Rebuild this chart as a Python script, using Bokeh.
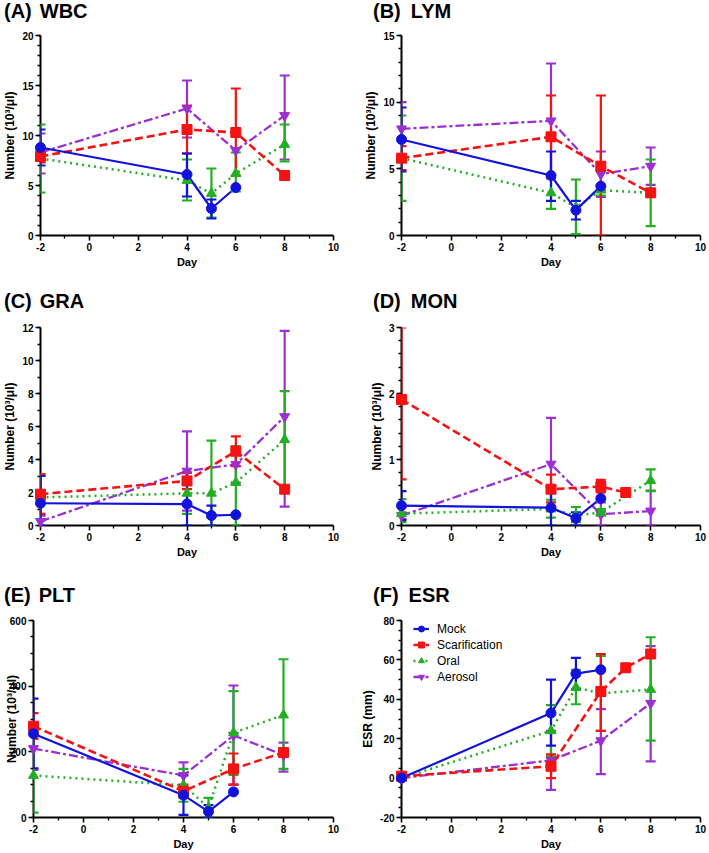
from bokeh.plotting import figure
from bokeh.models import (Range1d, FixedTicker, ColumnDataSource, Whisker, TeeHead,
                          Legend, LegendItem, Div)
from bokeh.layouts import column, row
from bokeh.embed import file_html
from bokeh.resources import INLINE

# ---------------- data ----------------
GROUPS = ["Mock", "Scarification", "Oral", "Aerosol"]
DAYS_MOCK = [-2, 4, 5, 6]
DAYS_SCAR = [-2, 4, 6, 7, 8]
DAYS_ORAL = [-2, 4, 5, 6, 8]
DAYS_AERO = [-2, 4, 6, 8]
X_TICKS = [-2, 0, 2, 4, 6, 8, 10]
X_MINOR = [-1, 1, 3, 5, 7, 9]

# (A) WBC
WBC_MOCK = [8.8, 6.1, 2.7, 4.8]
WBC_MOCK_LO = [7.0, 3.9, 1.7, None]
WBC_MOCK_HI = [10.6, 8.2, 3.6, None]
WBC_SCAR = [7.9, 10.6, 10.3, None, 6.0]
WBC_SCAR_LO = [7.3, 8.2, 6.0, None, None]
WBC_SCAR_HI = [8.5, 13.0, 14.7, None, None]
WBC_ORAL = [7.7, 5.5, 4.2, 6.2, 9.1]
WBC_ORAL_LO = [4.3, 3.5, 1.8, 4.4, 7.4]
WBC_ORAL_HI = [11.1, 7.6, 6.7, 8.3, 11.1]
WBC_AERO = [8.3, 12.7, 8.5, 12.0]
WBC_AERO_LO = [6.2, 9.8, None, 7.6]
WBC_AERO_HI = [10.2, 15.5, None, 16.0]

# (B) LYM
LYM_MOCK = [7.2, 4.5, 1.9, 3.7]
LYM_MOCK_LO = [4.8, 2.6, 1.2, None]
LYM_MOCK_HI = [9.6, 6.3, 2.6, None]
LYM_SCAR = [5.8, 7.4, 5.2, None, 3.2]
LYM_SCAR_LO = [4.9, 4.3, 0.0, None, None]
LYM_SCAR_HI = [6.7, 10.5, 10.5, None, None]
LYM_ORAL = [5.8, 3.2, 2.1, 3.4, 3.2]
LYM_ORAL_LO = [2.6, 2.0, 0.1, 3.0, 0.7]
LYM_ORAL_HI = [9.0, 4.4, 4.2, 3.8, 5.7]
LYM_AERO = [8.0, 8.6, 4.6, 5.2]
LYM_AERO_LO = [6.0, 4.3, 2.9, 3.8]
LYM_AERO_HI = [10.0, 12.9, 6.3, 6.6]

# (C) GRA
GRA_MOCK = [1.35, 1.3, 0.6, 0.65]
GRA_MOCK_LO = [0.0, 0.0, 0.0, None]
GRA_MOCK_HI = [3.0, 2.6, 1.2, None]
GRA_SCAR = [1.9, 2.7, 4.5, None, 2.2]
GRA_SCAR_LO = [0.7, 2.2, 3.6, None, None]
GRA_SCAR_HI = [3.1, 3.2, 5.4, None, None]
GRA_ORAL = [1.7, 1.95, 1.95, 2.6, 5.2]
GRA_ORAL_LO = [0.3, 0.7, 0.0, 0.0, 2.3]
GRA_ORAL_HI = [3.1, 3.2, 5.15, 4.8, 8.15]
GRA_AERO = [0.25, 3.3, 3.7, 6.6]
GRA_AERO_LO = [0.0, 0.9, 2.6, 1.15]
GRA_AERO_HI = [0.6, 5.7, 4.8, 11.8]

# (D) MON
MON_MOCK = [0.3, 0.27, 0.11, 0.41]
MON_MOCK_LO = [0.08, 0.0, 0.0, None]
MON_MOCK_HI = [0.52, 0.55, 0.2, None]
MON_SCAR = [1.91, 0.55, 0.59, 0.5, None]
MON_SCAR_LO = [0.7, 0.35, 0.5, None, None]
MON_SCAR_HI = [3.0, 0.77, 0.69, None, None]
MON_ORAL = [0.18, 0.25, 0.15, 0.2, 0.68]
MON_ORAL_LO = [0.05, 0.12, 0.05, 0.15, 0.52]
MON_ORAL_HI = [0.4, 0.39, 0.28, 0.25, 0.85]
MON_AERO = [0.15, 0.93, 0.17, 0.22]
MON_AERO_LO = [0.1, 0.22, 0.0, 0.0]
MON_AERO_HI = [0.2, 1.63, 0.35, 0.53]

# (E) PLT
PLT_MOCK = [255, 68, 18, 78]
PLT_MOCK_LO = [150, 8, 0, None]
PLT_MOCK_HI = [362, 128, 38, None]
PLT_SCAR = [278, 80, 148, None, 198]
PLT_SCAR_LO = [240, 60, 100, None, None]
PLT_SCAR_HI = [318, 100, 195, None, None]
PLT_ORAL = [128, 98, 30, 258, 312]
PLT_ORAL_LO = [15, 48, 0, 130, 148]
PLT_ORAL_HI = [240, 148, 60, 385, 482]
PLT_AERO = [210, 128, 250, 190]
PLT_AERO_LO = [145, 90, 100, 140]
PLT_AERO_HI = [275, 168, 402, 228]

# (F) ESR
ESR_MOCK = [0, 33, 53, 55]
ESR_MOCK_LO = [None, 16.5, 45, None]
ESR_MOCK_HI = [None, 50, 61, None]
ESR_SCAR = [1, 6, 44, 56, 63]
ESR_SCAR_LO = [None, 0, 24, None, None]
ESR_SCAR_HI = [None, 12, 63, None, None]
ESR_ORAL = [0, 24, 46, 43, 45]
ESR_ORAL_LO = [None, 11, 37.5, 24, 19]
ESR_ORAL_HI = [None, 37, 55, 62, 71.5]
ESR_AERO = [0, 9, 19, 38]
ESR_AERO_LO = [None, -6, 2, 8.5]
ESR_AERO_HI = [None, 24, 35, 67]

# ---------------- styling ----------------
FONT = "Liberation Sans"
COLORS = ["#1212dc", "#f51212", "#22b022", "#9b30d2"]
DASHES = ["solid", "8 4", "2 4", "9 3 3 3"]
WIDTHS = [2.2, 2.6, 2.5, 2.3]
MARKERS = ["circle", "square", "triangle", "inverted_triangle"]
MSIZES = [10, 10, 10, 10]

# title height, title padding-top, fig height, border top, border bottom
ROWS = [(26, 1, 257, 9, 48), (28, 8, 249, 16, 33), (46, 25, 246, 14, 30)]
# width, border left, border right, title padding-left, gap
COLS = [(355, 33, 22, 4, 8), (354, 46, 9, 18, 10)]


def make_panel(ci, ri, letter, name, ylabel, ymin, ymax, ystep, yminor, series,
               legend=False, ylab_standoff=2):
    W, bl, br, tpl, gap = COLS[ci]
    TH, tpt, H, bt, bb = ROWS[ri]
    p = figure(width=W, height=H, output_backend="svg", toolbar_location=None,
               x_range=Range1d(-2, 10), y_range=Range1d(ymin, ymax),
               min_border_left=bl, min_border_right=br, min_border_top=bt, min_border_bottom=bb)
    p.outline_line_color = None
    p.xgrid.visible = False
    p.ygrid.visible = False
    p.background_fill_color = "white"
    p.border_fill_color = "white"

    nmaj = int(round((ymax - ymin) / ystep))
    yticks = [round(ymin + k * ystep, 6) for k in range(nmaj + 1)]
    nmin = int(round((ymax - ymin) / yminor))
    yminors = [round(ymin + k * yminor, 6) for k in range(nmin + 1)]

    p.xaxis.ticker = FixedTicker(ticks=X_TICKS, minor_ticks=X_MINOR)
    p.yaxis.ticker = FixedTicker(ticks=yticks, minor_ticks=yminors)
    p.xaxis.major_label_overrides = {t: str(t) for t in X_TICKS if t < 0}
    p.yaxis.major_label_overrides = {t: "%g" % t for t in yticks if t < 0}
    p.xaxis.axis_label = "Day"
    p.yaxis.axis_label = ylabel
    for ax in (p.xaxis[0], p.yaxis[0]):
        ax.axis_line_width = 2
        ax.axis_line_color = "black"
        ax.major_tick_line_width = 1.6
        ax.minor_tick_line_width = 1.3
        ax.major_tick_out = 5
        ax.major_tick_in = 0
        ax.minor_tick_out = 3
        ax.minor_tick_in = 0
        ax.major_label_text_font = FONT
        ax.major_label_text_font_style = "bold"
        ax.major_label_text_font_size = "10px"
        ax.major_label_text_color = "black"
        ax.major_label_standoff = 2
        ax.axis_label_text_font = FONT
        ax.axis_label_text_font_style = "bold"
        ax.axis_label_text_color = "black"
        ax.axis_label_standoff = 2
    p.yaxis.axis_label_standoff = ylab_standoff
    p.xaxis.axis_label_text_font_size = "11px"
    p.yaxis.axis_label_text_font_size = "12px"

    rends = {}
    for gi in [3, 2, 1, 0]:
        days, vals, lo, hi = series[gi]
        xs = [d for d, y in zip(days, vals) if y is not None]
        ys = [y for y in vals if y is not None]
        wb = [d for d, a, b in zip(days, lo, hi) if a is not None and b is not None]
        wl = [a for a, b in zip(lo, hi) if a is not None and b is not None]
        wu = [b for a, b in zip(lo, hi) if a is not None and b is not None]
        col = COLORS[gi]
        if wb:
            src = ColumnDataSource(dict(base=wb, lower=wl, upper=wu))
            wh = Whisker(base="base", lower="lower", upper="upper", source=src,
                         line_color=col, line_width=2.2, level="annotation",
                         upper_head=TeeHead(size=10, line_color=col, line_width=2.2),
                         lower_head=TeeHead(size=10, line_color=col, line_width=2.2))
            p.add_layout(wh)
        ln = p.line(xs, ys, line_color=col, line_width=WIDTHS[gi], line_dash=DASHES[gi])
        mk = p.scatter(xs, ys, marker=MARKERS[gi], size=MSIZES[gi],
                       fill_color=col, line_color=col, level="overlay")
        rends[gi] = [ln, mk]

    if legend:
        items = [LegendItem(label=GROUPS[gi], renderers=rends[gi]) for gi in [0, 1, 2, 3]]
        lg = Legend(items=items, location=(12, 133), padding=0, margin=0,
                    spacing=1, glyph_width=16, glyph_height=15, label_standoff=8,
                    label_text_font=FONT, label_text_font_size="12px",
                    label_text_color="black",
                    label_height=15, border_line_color=None, background_fill_alpha=0)
        p.add_layout(lg, "center")

    html = ('<div style="padding:%dpx 0 0 %dpx; font-family:\'%s\'; font-weight:bold; '
            'font-size:20px; line-height:1; white-space:nowrap; color:#000;">'
            '<span>(%s)</span><span style="margin-left:%dpx;">%s</span></div>'
            % (tpt, tpl, FONT, letter, gap, name))
    title = Div(text=html, width=W, height=TH, margin=0)
    return column(title, p, spacing=0)


YLAB = "Number (10\u00b3/\u03bcl)"

pA = make_panel(0, 0, "A", "WBC", YLAB, 0, 20, 5, 1, [
    (DAYS_MOCK, WBC_MOCK, WBC_MOCK_LO, WBC_MOCK_HI),
    (DAYS_SCAR, WBC_SCAR, WBC_SCAR_LO, WBC_SCAR_HI),
    (DAYS_ORAL, WBC_ORAL, WBC_ORAL_LO, WBC_ORAL_HI),
    (DAYS_AERO, WBC_AERO, WBC_AERO_LO, WBC_AERO_HI)])
pB = make_panel(1, 0, "B", "LYM", YLAB, 0, 15, 5, 1, [
    (DAYS_MOCK, LYM_MOCK, LYM_MOCK_LO, LYM_MOCK_HI),
    (DAYS_SCAR, LYM_SCAR, LYM_SCAR_LO, LYM_SCAR_HI),
    (DAYS_ORAL, LYM_ORAL, LYM_ORAL_LO, LYM_ORAL_HI),
    (DAYS_AERO, LYM_AERO, LYM_AERO_LO, LYM_AERO_HI)])
pC = make_panel(0, 1, "C", "GRA", YLAB, 0, 12, 2, 1, [
    (DAYS_MOCK, GRA_MOCK, GRA_MOCK_LO, GRA_MOCK_HI),
    (DAYS_SCAR, GRA_SCAR, GRA_SCAR_LO, GRA_SCAR_HI),
    (DAYS_ORAL, GRA_ORAL, GRA_ORAL_LO, GRA_ORAL_HI),
    (DAYS_AERO, GRA_AERO, GRA_AERO_LO, GRA_AERO_HI)])
pD = make_panel(1, 1, "D", "MON", YLAB, 0, 3, 1, 0.2, [
    (DAYS_MOCK, MON_MOCK, MON_MOCK_LO, MON_MOCK_HI),
    (DAYS_SCAR, MON_SCAR, MON_SCAR_LO, MON_SCAR_HI),
    (DAYS_ORAL, MON_ORAL, MON_ORAL_LO, MON_ORAL_HI),
    (DAYS_AERO, MON_AERO, MON_AERO_LO, MON_AERO_HI)])
pE = make_panel(0, 2, "E", "PLT", YLAB, 0, 600, 200, 50, [
    (DAYS_MOCK, PLT_MOCK, PLT_MOCK_LO, PLT_MOCK_HI),
    (DAYS_SCAR, PLT_SCAR, PLT_SCAR_LO, PLT_SCAR_HI),
    (DAYS_ORAL, PLT_ORAL, PLT_ORAL_LO, PLT_ORAL_HI),
    (DAYS_AERO, PLT_AERO, PLT_AERO_LO, PLT_AERO_HI)], ylab_standoff=-12)
pF = make_panel(1, 2, "F", "ESR", "ESR (mm)", -20, 80, 20, 5, [
    (DAYS_MOCK, ESR_MOCK, ESR_MOCK_LO, ESR_MOCK_HI),
    (DAYS_SCAR, ESR_SCAR, ESR_SCAR_LO, ESR_SCAR_HI),
    (DAYS_ORAL, ESR_ORAL, ESR_ORAL_LO, ESR_ORAL_HI),
    (DAYS_AERO, ESR_AERO, ESR_AERO_LO, ESR_AERO_HI)], legend=True)

layout = column(row(pA, pB, spacing=0), row(pC, pD, spacing=0), row(pE, pF, spacing=0), spacing=0)

with open("out.html", "w") as f:
    f.write(file_html(layout, INLINE))
